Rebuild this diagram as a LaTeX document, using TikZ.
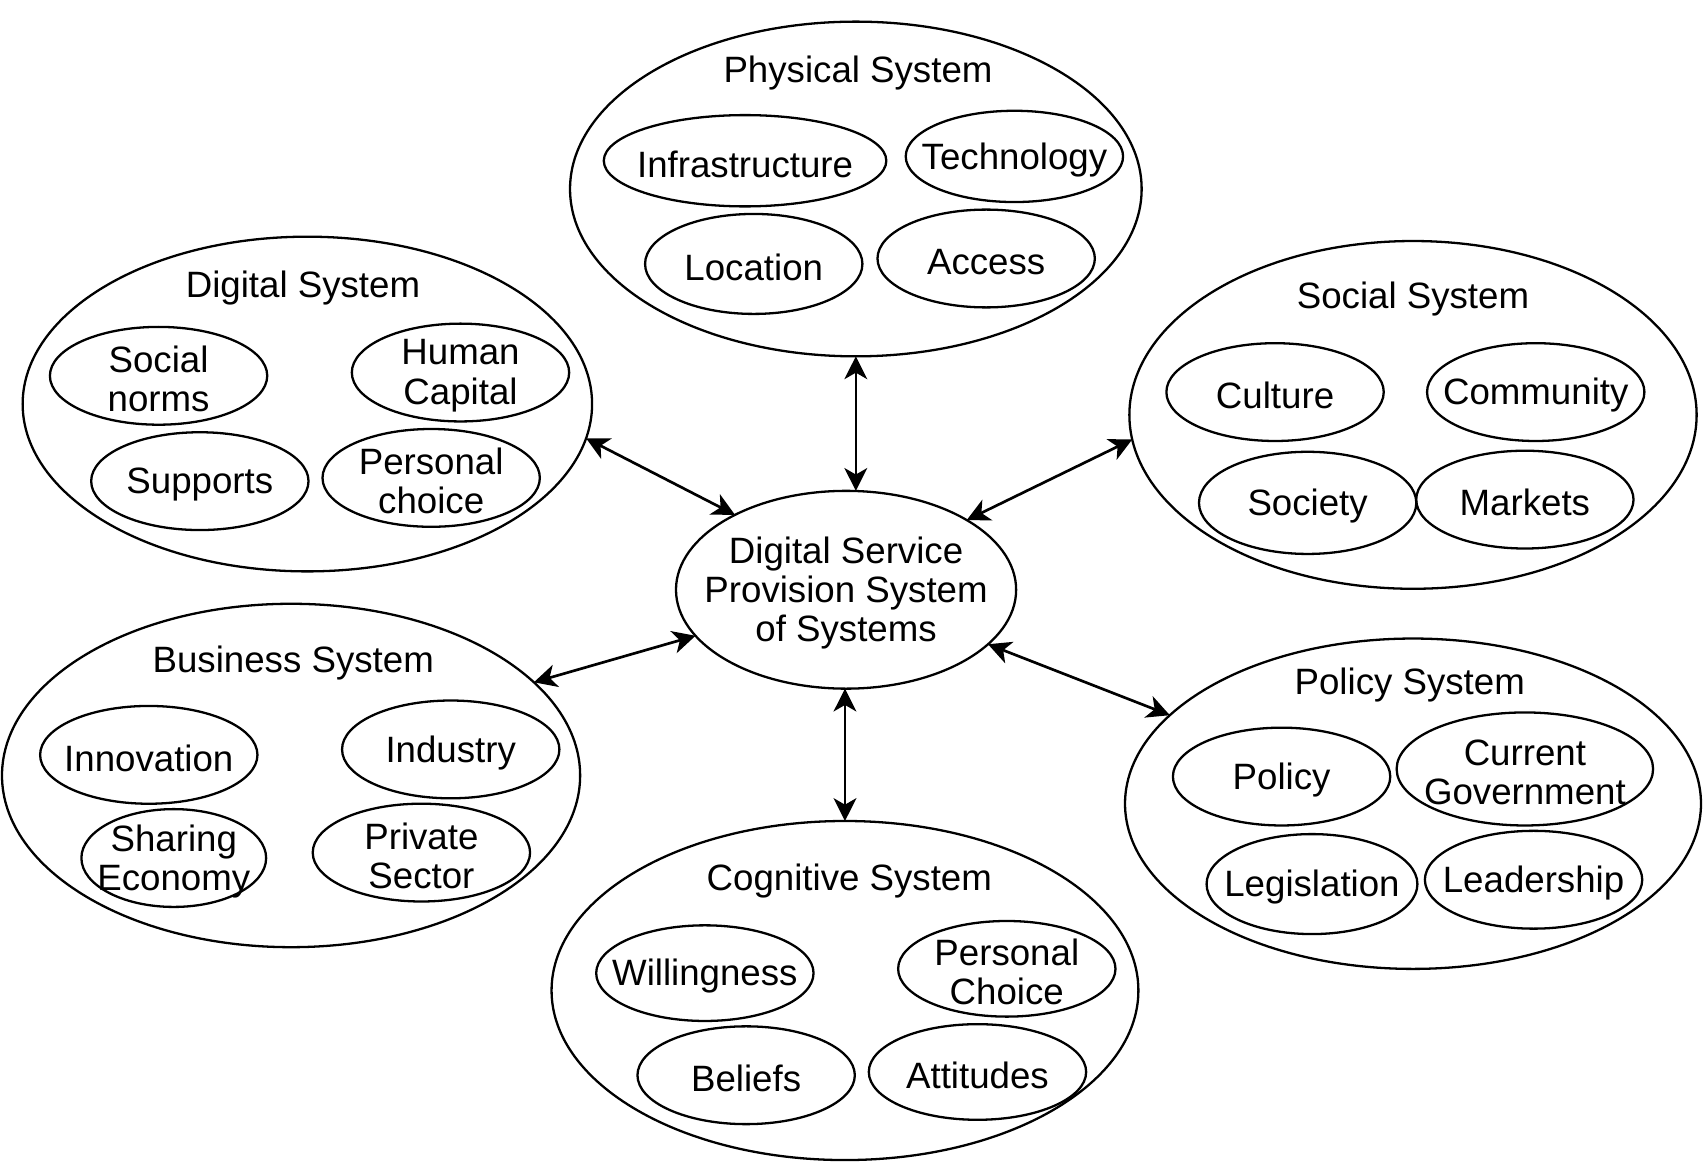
\documentclass[tikz,border=0pt]{standalone}
\usepackage{fontspec}
\setmainfont{Liberation Sans}
\usetikzlibrary{shapes.geometric,arrows.meta}

\begin{document}
\begin{tikzpicture}[x=0.01cm,y=-0.01cm,
	every node/.style={font=\fontsize{9.6}{10.3}\selectfont},
	every label/.style={align=center,inner sep=0pt,yshift=-0.3mm},
	sysbox/.style={ellipse,draw,line width=0.6pt,inner sep=0pt,outer sep=0pt},
	partbox/.style={ellipse,draw,line width=0.6pt,inner sep=0pt,outer sep=0pt,
		minimum width=2cm,minimum height=0.9cm,label={center:#1}},
	link/.style={{Stealth[length=2.1mm,width=2.1mm,inset=0.6mm]}-{Stealth[length=2.1mm,width=2.1mm,inset=0.6mm]},line width=0.7pt}]
	\useasboundingbox (0,0) rectangle (1568,1075);
	%
	\node[sysbox,minimum width=5.26cm,minimum height=3.08cm] (phy) at (788,174) {};
	\node[sysbox,minimum width=5.24cm,minimum height=3.08cm] (dig) at (283,372) {};
	\node[sysbox,minimum width=5.22cm,minimum height=3.2cm] (soc) at (1301,382) {};
	\node[sysbox,minimum width=5.32cm,minimum height=3.16cm] (bus) at (268,714) {};
	\node[sysbox,minimum width=5.3cm,minimum height=3.04cm] (pol) at (1301,740) {};
	\node[sysbox,minimum width=5.4cm,minimum height=3.12cm] (cog) at (778,912) {};
	\node[sysbox,minimum width=3.13cm,minimum height=1.82cm,
		label={center:Digital Service\\Provision System\\of Systems}] (dsp) at (779,543) {};
	%
	\node (phyt) at (790,67) {Physical System};
	\node (digt) at (279,265) {Digital System};
	\node (soct) at (1301,275) {Social System};
	\node (bust) at (270,610) {Business System};
	\node (polt) at (1298,631) {Policy System};
	\node (cogt) at (782,811) {Cognitive System};
	%
	\node[partbox=Infrastructure,minimum width=2.6cm,minimum height=0.84cm] (infra) at (686,148) {};
	\node[partbox=Technology,minimum height=0.84cm] (tech) at (934,144) {};
	\node[partbox=Location,minimum height=0.92cm] (loc) at (694,243) {};
	\node[partbox=Access] (acc) at (908,238) {};
	%
	\node[partbox={Social\\norms}] (norms) at (146,346) {};
	\node[partbox={Human\\Capital}] (human) at (424,343) {};
	\node[partbox=Supports] (supp) at (184,443) {};
	\node[partbox={Personal\\choice}] (pchoice) at (397,440) {};
	%
	\node[partbox=Culture] (cult) at (1174,361) {};
	\node[partbox=Community] (comm) at (1414,361) {};
	\node[partbox=Society,minimum height=0.94cm] (socy) at (1204,463) {};
	\node[partbox=Markets] (mark) at (1404,460) {};
	%
	\node[partbox=Innovation] (innov) at (137,695) {};
	\node[partbox=Industry] (indus) at (415,690) {};
	\node[partbox={Sharing\\Economy},minimum width=1.7cm] (share) at (160,790) {};
	\node[partbox={Private\\Sector}] (priv) at (388,785) {};
	%
	\node[partbox=Policy] (poli) at (1180,715) {};
	\node[partbox={Current\\Government},minimum width=2.36cm,minimum height=1.04cm] (gov) at (1404,708) {};
	\node[partbox=Legislation,minimum width=1.94cm,minimum height=0.92cm] (legis) at (1208,814) {};
	\node[partbox=Leadership] (lead) at (1412,810) {};
	%
	\node[partbox=Willingness,minimum height=0.88cm] (will) at (649,896) {};
	\node[partbox={Personal\\Choice},minimum height=0.88cm] (cchoice) at (927,892) {};
	\node[partbox=Beliefs] (belief) at (687,990) {};
	\node[partbox=Attitudes,minimum height=0.88cm] (attit) at (900,987) {};
	%
	\draw[link] (phy.south) -- (phy.south |- dsp.north);
	\draw[link] (dig.-7) -- (dsp.146);
	\draw[link] (soc.185) -- (dsp.30);
	\draw[link] (bus.21) -- (dsp.197);
	\draw[link] (pol.160) -- (dsp.-21);
	\draw[link] (cog.north) -- (cog.north |- dsp.south);
\end{tikzpicture}
\end{document}
